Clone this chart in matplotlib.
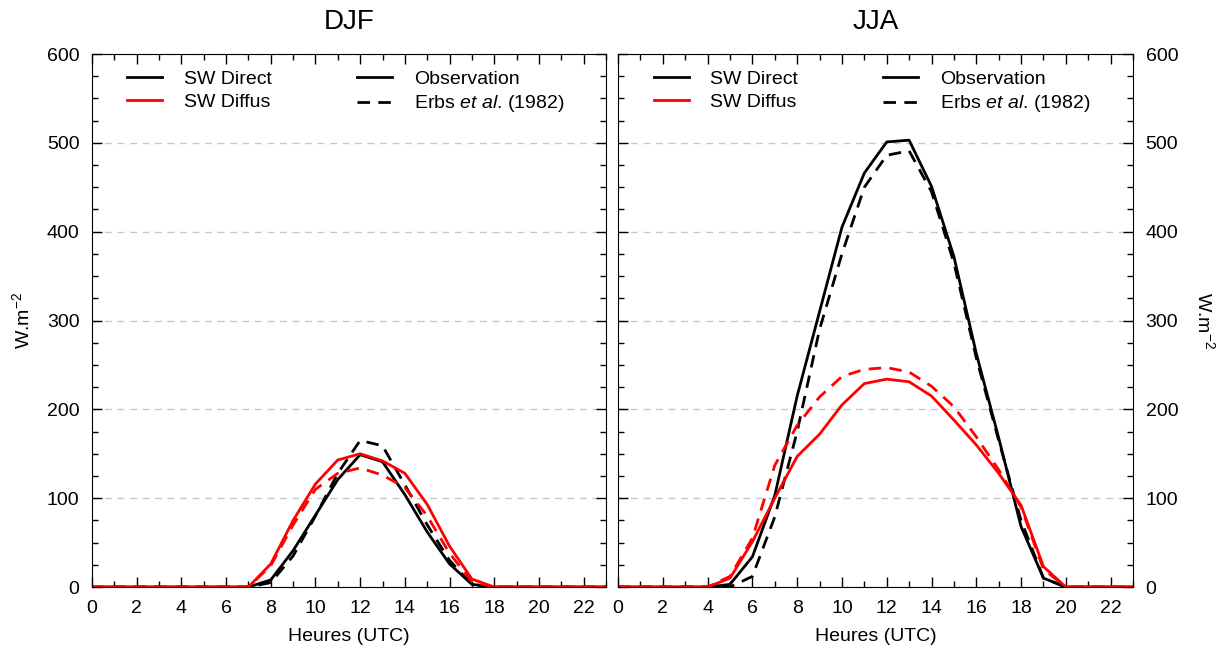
import matplotlib
matplotlib.use('Agg')
import matplotlib.pyplot as plt
from matplotlib.lines import Line2D
from matplotlib.ticker import MultipleLocator

plt.rcParams['font.family'] = ['Liberation Sans', 'DejaVu Sans']
plt.rcParams['mathtext.fontset'] = 'custom'
plt.rcParams['mathtext.rm'] = 'Liberation Sans'
plt.rcParams['mathtext.it'] = 'Liberation Sans:italic'

hours = list(range(24))

# DJF (W.m-2)
djf_direct_obs = [0, 0, 0, 0, 0, 0, 0, 0, 8, 41, 81, 121, 149, 141, 104, 62, 26, 3, 0, 0, 0, 0, 0, 0]
djf_direct_erbs = [0, 0, 0, 0, 0, 0, 0, 0, 5, 35, 80, 128, 165, 159, 115, 70, 30, 3, 0, 0, 0, 0, 0, 0]
djf_diffus_obs = [0, 0, 0, 0, 0, 0, 0, 0, 26, 75, 116, 143, 150, 142, 128, 93, 46, 9, 0, 0, 0, 0, 0, 0]
djf_diffus_erbs = [0, 0, 0, 0, 0, 0, 0, 0, 24, 70, 110, 128, 134, 126, 112, 80, 38, 6, 0, 0, 0, 0, 0, 0]

# JJA (W.m-2)
jja_direct_obs = [0, 0, 0, 0, 0, 3, 34, 103, 215, 310, 405, 466, 501, 503, 451, 372, 263, 168, 68, 10, 0, 0, 0, 0]
jja_direct_erbs = [0, 0, 0, 0, 0, 0, 12, 79, 175, 290, 375, 450, 486, 491, 445, 365, 258, 165, 75, 10, 0, 0, 0, 0]
jja_diffus_obs = [0, 0, 0, 0, 0, 10, 51, 100, 147, 172, 205, 229, 234, 231, 215, 188, 160, 128, 92, 23, 0, 0, 0, 0]
jja_diffus_erbs = [0, 0, 0, 0, 0, 12, 55, 137, 182, 214, 237, 245, 247, 242, 226, 203, 169, 132, 90, 20, 0, 0, 0, 0]

seasons = ['DJF', 'JJA']
data = {
    'DJF': (djf_direct_obs, djf_direct_erbs, djf_diffus_obs, djf_diffus_erbs),
    'JJA': (jja_direct_obs, jja_direct_erbs, jja_diffus_obs, jja_diffus_erbs),
}

fig = plt.figure(figsize=(12.2, 6.57), dpi=100)
ax1 = fig.add_axes([0.0754, 0.1065, 0.4213, 0.8113])
ax2 = fig.add_axes([0.5066, 0.1065, 0.4221, 0.8113])

dash = (0, (4.5, 3))
lw = 2.0

for ax, season in zip([ax1, ax2], seasons):
    d_obs, d_erbs, f_obs, f_erbs = data[season]
    ax.plot(hours, d_obs, color='black', lw=lw)
    ax.plot(hours, d_erbs, color='black', lw=lw, linestyle=dash)
    ax.plot(hours, f_obs, color='red', lw=lw)
    ax.plot(hours, f_erbs, color='red', lw=lw, linestyle=dash)

    ax.set_xlim(0, 23)
    ax.set_ylim(0, 600)
    ax.xaxis.set_major_locator(MultipleLocator(2))
    ax.xaxis.set_minor_locator(MultipleLocator(1))
    ax.yaxis.set_major_locator(MultipleLocator(100))
    ax.yaxis.set_minor_locator(MultipleLocator(25))
    ax.tick_params(which='both', direction='in', top=True, right=True, labelsize=14)
    ax.tick_params(which='major', length=7, width=1, pad=9)
    ax.tick_params(which='minor', length=4, width=1)
    ax.grid(axis='y', which='major', linestyle=(0, (5, 4)), color='#c8c8c8', lw=1)
    ax.set_axisbelow(True)
    ax.set_title(season, fontsize=20, pad=18)
    ax.set_xlabel('Heures (UTC)', fontsize=14, labelpad=8)

    handles = [
        Line2D([], [], color='black', lw=lw),
        Line2D([], [], color='red', lw=lw),
        Line2D([], [], color='black', lw=lw),
        Line2D([], [], color='black', lw=lw, linestyle=dash),
    ]
    labels = ['SW Direct', 'SW Diffus', 'Observation', r'Erbs $\it{et\ al}$. (1982)']
    ax.legend(handles, labels, ncol=2, frameon=False, fontsize=14, loc='upper left',
              bbox_to_anchor=(0.035, 1.003), handlelength=1.8, columnspacing=4.4,
              labelspacing=0.3, handletextpad=1.1)

ax1.set_ylabel('W.m$^{-2}$', fontsize=14, labelpad=10)
ax2.yaxis.tick_right()
ax2.tick_params(which='both', left=True, labelleft=False, labelright=True)
ax2.yaxis.set_label_position('right')
ax2.set_ylabel('W.m$^{-2}$', fontsize=14, rotation=270, labelpad=27)

plt.savefig('out.png', dpi=100)
